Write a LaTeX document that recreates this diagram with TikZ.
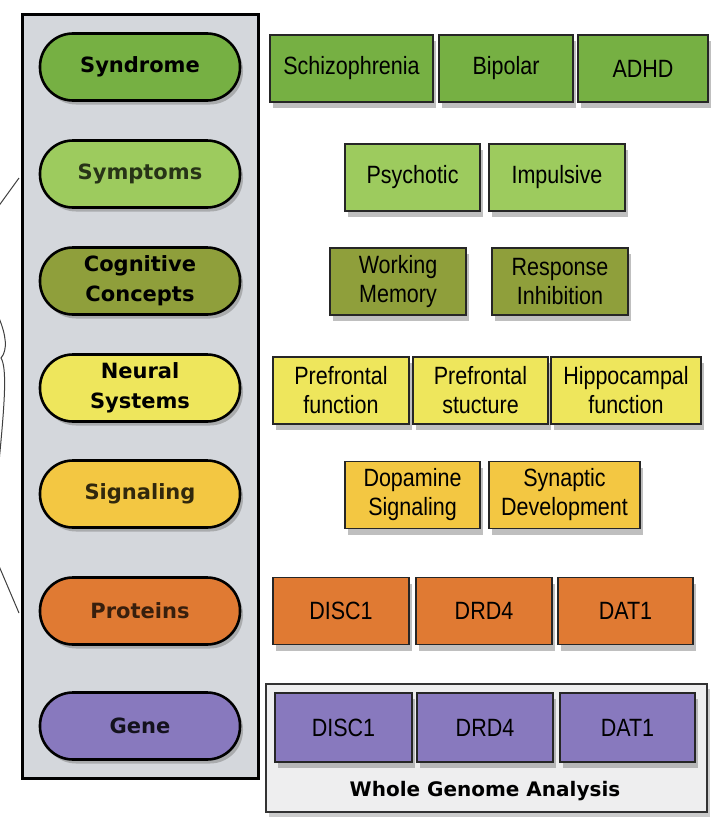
\documentclass[tikz,border=0pt]{standalone}
\usepackage{fontspec}
\setmainfont{Liberation Sans}[FakeStretch=0.86]
\newfontfamily\pillfont{DejaVu Sans}
\usetikzlibrary{shadows}

\definecolor{syndromegreen}{HTML}{76B043}
\definecolor{symptomgreen}{HTML}{9DCB5E}
\definecolor{cogolive}{HTML}{8F9F3B}
\definecolor{neuralyellow}{HTML}{EEE65C}
\definecolor{signalgold}{HTML}{F3C742}
\definecolor{proteinorange}{HTML}{E07A33}
\definecolor{genepurple}{HTML}{8879BE}
\definecolor{panelgray}{HTML}{D4D7DC}
\definecolor{genomegray}{HTML}{EEEEEF}

\tikzstyle{pill} = [draw, line width=2.6pt, rounded corners=33pt, minimum width=200pt,
	minimum height=67pt, align=center, font=\pillfont\bfseries\fontsize{21}{30}\selectfont,
	drop shadow={shadow xshift=3pt, shadow yshift=-4pt, opacity=0.5}]
\tikzstyle{item} = [draw=black!85, line width=1.8pt, minimum height=67pt, align=center,
	font=\fontsize{25}{29}\selectfont,
	drop shadow={shadow xshift=3pt, shadow yshift=-6pt, opacity=0.5}]

\begin{document}
\begin{tikzpicture}[x=1pt,y=-1pt]
\useasboundingbox (0,0) rectangle (711,835);
\clip (0,0) rectangle (711,835);
\fill[white] (0,0) rectangle (711,835);

% brace on the left edge
\draw[black!75, line width=1pt] (19,178) -- (-2,207);
\draw[black!75, line width=1pt] (-1,318) .. controls (6,335) and (8,350) .. (1,358)
	.. controls (7,368) and (5,400) .. (-1,462);
\draw[black!75, line width=1pt] (-1,566) -- (19,613);

% levels
\draw[fill=panelgray, line width=3pt] (22,14) rectangle (258,778);
\node [pill, fill=syndromegreen] (syndrome) at (140,67) {Syndrome};
\node [pill, fill=symptomgreen, text=symptomgreen!25!black] (symptoms) at (140,174) {Symptoms};
\node [pill, fill=cogolive] (cognitive) at (140,281) {Cognitive\\Concepts};
\node [pill, fill=neuralyellow] (neural) at (140,388) {Neural\\Systems};
\node [pill, fill=signalgold, text=signalgold!20!black] (signaling) at (140,494) {Signaling};
\node [pill, fill=proteinorange, text=proteinorange!25!black] (proteins) at (140,611) {Proteins};
\node [pill, fill=genepurple, text=genepurple!15!black] (gene) at (140,726) {Gene};

% syndrome
\node [item, fill=syndromegreen, minimum width=163pt] (schizo) at (351.5,68.5) {Schizophrenia};
\node [item, fill=syndromegreen, minimum width=134pt] (bipolar) at (506,68.5) {Bipolar};
\node [item, fill=syndromegreen, minimum width=130pt] (adhd) at (643,68.5) {ADHD};
% symptoms
\node [item, fill=symptomgreen, minimum width=135pt] (psychotic) at (412.5,177.5) {Psychotic};
\node [item, fill=symptomgreen, minimum width=136pt] (impulsive) at (557,177.5) {Impulsive};
% cognitive concepts
\node [item, fill=cogolive, minimum width=136pt] (memory) at (398,281.5) {Working\\Memory};
\node [item, fill=cogolive, minimum width=136pt] (inhibition) at (560,281.5) {Response\\Inhibition};
% neural systems
\node [item, fill=neuralyellow, minimum width=136pt] (pffunction) at (341,390.5) {Prefrontal\\function};
\node [item, fill=neuralyellow, minimum width=135pt] (pfstructure) at (480.5,390.5) {Prefrontal\\stucture};
\node [item, fill=neuralyellow, minimum width=150pt] (hippo) at (626,390.5) {Hippocampal\\function};
% signaling
\node [item, fill=signalgold, minimum width=135pt] (dopamine) at (412.5,495) {Dopamine\\Signaling};
\node [item, fill=signalgold, minimum width=151pt] (synaptic) at (564.5,495) {Synaptic\\Development};
% proteins
\node [item, fill=proteinorange, minimum width=136pt] (pdisc) at (341,611) {DISC1};
\node [item, fill=proteinorange, minimum width=136pt] (pdrd) at (484,611) {DRD4};
\node [item, fill=proteinorange, minimum width=135pt] (pdat) at (625.5,611) {DAT1};
% gene
\draw[fill=genomegray, draw=black!80, line width=1.8pt,
	drop shadow={shadow xshift=3pt, shadow yshift=-5pt, opacity=0.4}] (266,684) rectangle (707,812);
\node [item, fill=genepurple, minimum width=137pt, minimum height=69pt] (gdisc) at (343.5,727.5) {DISC1};
\node [item, fill=genepurple, minimum width=136pt, minimum height=69pt] (gdrd) at (485,727.5) {DRD4};
\node [item, fill=genepurple, minimum width=135pt, minimum height=69pt] (gdat) at (627.5,727.5) {DAT1};
\node [font=\pillfont\bfseries\fontsize{20}{24}\selectfont] (genome) at (485,791) {Whole Genome Analysis};
\end{tikzpicture}
\end{document}
